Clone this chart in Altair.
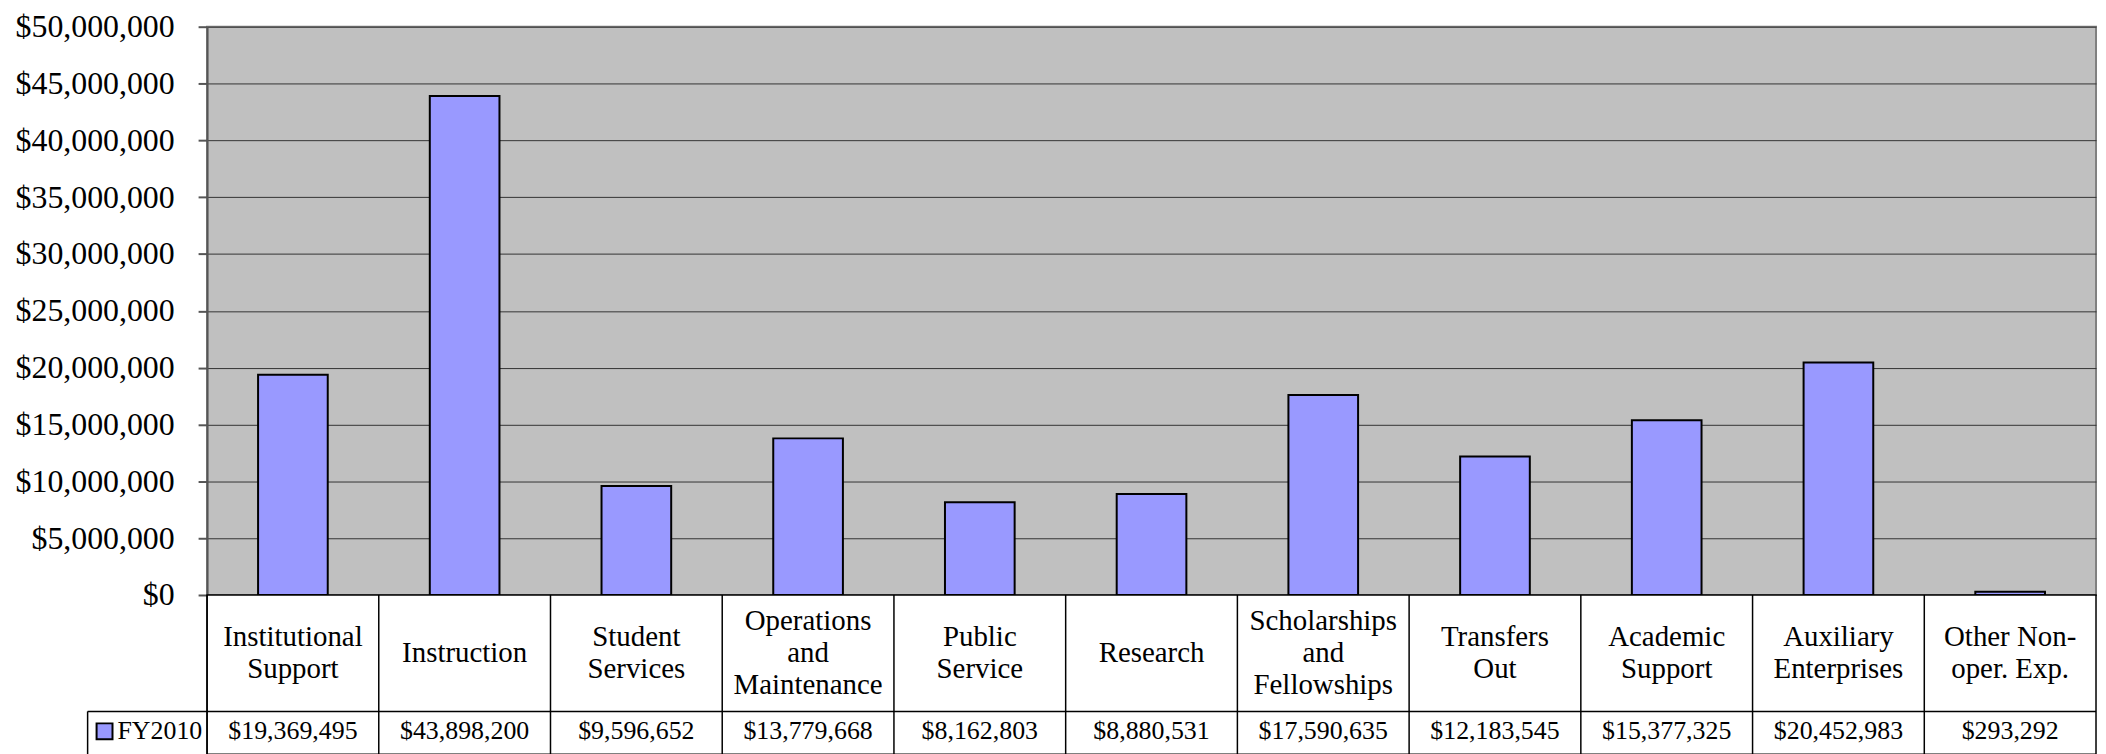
import altair as alt
import pandas as pd

# ---- data ----
categories = [
    "Institutional\nSupport", "Instruction", "Student\nServices",
    "Operations\nand\nMaintenance", "Public\nService", "Research",
    "Scholarships\nand\nFellowships", "Transfers\nOut", "Academic\nSupport",
    "Auxiliary\nEnterprises", "Other Non-\noper. Exp.",
]
values = [19369495, 43898200, 9596652, 13779668, 8162803, 8880531,
          17590635, 12183545, 15377325, 20452983, 293292]
series_name = "FY2010"
y_ticks = [0, 5000000, 10000000, 15000000, 20000000, 25000000,
           30000000, 35000000, 40000000, 45000000, 50000000]

df = pd.DataFrame({"category": categories, "value": values, "series": series_name})
legend_df = pd.DataFrame({"series": [series_name]})

FONT = "Liberation Serif"
W = 1898
H_PLOT = 571
H_TABLE = 160
ROW1 = 117  # height of the category-label row
LH = 32     # line height of category labels

xscale = alt.Scale(domain=categories, paddingInner=0, paddingOuter=0)

bars = alt.Chart(df).mark_bar(
    size=70, fill="#9999FF", stroke="black", strokeWidth=2
).encode(
    x=alt.X("category:N", sort=categories, scale=xscale, axis=None),
    y=alt.Y(
        "value:Q",
        scale=alt.Scale(domain=[0, 50000000], nice=False),
        axis=alt.Axis(
            values=y_ticks, format="$,.0f", title=None,
            labelFont=FONT, labelFontSize=32, labelColor="black",
            labelPadding=24, tickSize=9, tickColor="#555555", tickWidth=2,
            domainColor="#555555", domainWidth=2,
            grid=True, gridColor="#333333", gridWidth=1,
        ),
    ),
).properties(
    width=W, height=H_PLOT,
    view=alt.ViewBackground(fill="#C0C0C0", stroke="#808080", strokeWidth=2),
)

xenc = alt.X("category:N", sort=categories, scale=xscale, axis=None)

cat_text = alt.Chart(df).transform_calculate(
    nlines="length(split(datum.category, '\\n'))"
).transform_calculate(
    ypos=f"{ROW1 / 2} - (datum.nlines - 1) * {LH / 2}"
).mark_text(
    font=FONT, fontSize=29, lineBreak="\n", lineHeight=LH,
    baseline="middle", align="center", color="black",
).encode(x=xenc, text="category:N", y=alt.Y("ypos:Q", scale=None, axis=None))

val_text = alt.Chart(df).mark_text(
    font=FONT, fontSize=26, baseline="middle", align="center", color="black",
).encode(x=xenc, text=alt.Text("value:Q", format="$,.0f"), y=alt.value(ROW1 + 20))

vlines = alt.Chart(df).mark_rule(color="black", strokeWidth=1.5).encode(
    x=alt.X("category:N", sort=categories, scale=xscale, axis=None, bandPosition=0),
    y=alt.value(0), y2=alt.value(H_TABLE),
)

hline = alt.Chart(legend_df).mark_rule(color="black", strokeWidth=1.5).encode(
    x=alt.value(-120), x2=alt.value(W), y=alt.value(ROW1)
)
vline = alt.Chart(legend_df).mark_rule(color="black", strokeWidth=1.5).encode(
    x=alt.value(-120), y=alt.value(ROW1), y2=alt.value(H_TABLE)
)
swatch = alt.Chart(legend_df).mark_square(
    size=256, fill="#9999FF", stroke="black", strokeWidth=2, opacity=1
).encode(x=alt.value(-103), y=alt.value(ROW1 + 20))
leg_text = alt.Chart(legend_df).mark_text(
    font=FONT, fontSize=26, align="left", baseline="middle", color="black"
).encode(text="series:N", x=alt.value(-90), y=alt.value(ROW1 + 20))

table = alt.layer(vlines, cat_text, val_text, hline, vline, swatch, leg_text).properties(
    width=W, height=H_TABLE,
    view=alt.ViewBackground(fill="white", stroke="black", strokeWidth=1.5),
)

chart = alt.vconcat(bars, table, spacing=0, bounds="flush").properties(
    padding={"left": 6, "top": 0, "right": 0, "bottom": 0}
).configure(background="white")

chart.save("out.html", embed_options={"renderer": "svg", "actions": False})
